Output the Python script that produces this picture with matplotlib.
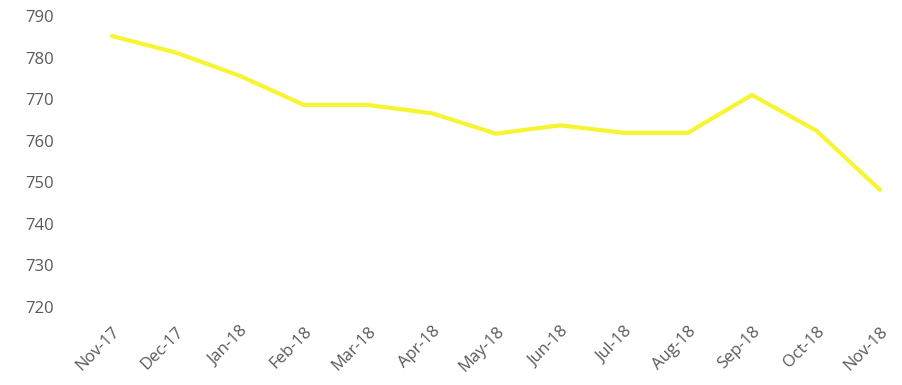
import matplotlib
matplotlib.use('Agg')
import matplotlib.pyplot as plt

months = ['Nov-17', 'Dec-17', 'Jan-18', 'Feb-18', 'Mar-18', 'Apr-18', 'May-18',
          'Jun-18', 'Jul-18', 'Aug-18', 'Sep-18', 'Oct-18', 'Nov-18']
values = [785.2, 781.2, 775.6, 768.6, 768.6, 766.6, 761.7,
          763.7, 761.9, 761.9, 771.0, 762.5, 748.2]
y_ticks = [720, 730, 740, 750, 760, 770, 780, 790]

plt.rcParams['font.family'] = ['Open Sans', 'DejaVu Sans']

fig = plt.figure(figsize=(9.02, 3.85), dpi=100)
ax = fig.add_axes([65 / 902, 1 - 307 / 385, (895 - 65) / 902, (307 - 16) / 385])

x = list(range(len(months)))
ax.plot(x, values, color='#F7F431', linewidth=3, solid_capstyle='round')

ax.set_xlim(-(112 - 65) / 64, 12 + (895 - 880) / 64)
ax.set_ylim(720, 790)
ax.set_yticks(y_ticks)
ax.set_xticks(x)
ax.set_xticklabels(months, rotation=45, ha='right', rotation_mode='anchor')

for s in ax.spines.values():
    s.set_visible(False)
ax.tick_params(axis='both', length=0, labelsize=12, colors='#595959')
ax.tick_params(axis='y', pad=8)
ax.tick_params(axis='x', pad=12)

fig.savefig('out.png', dpi=100, facecolor='white')
